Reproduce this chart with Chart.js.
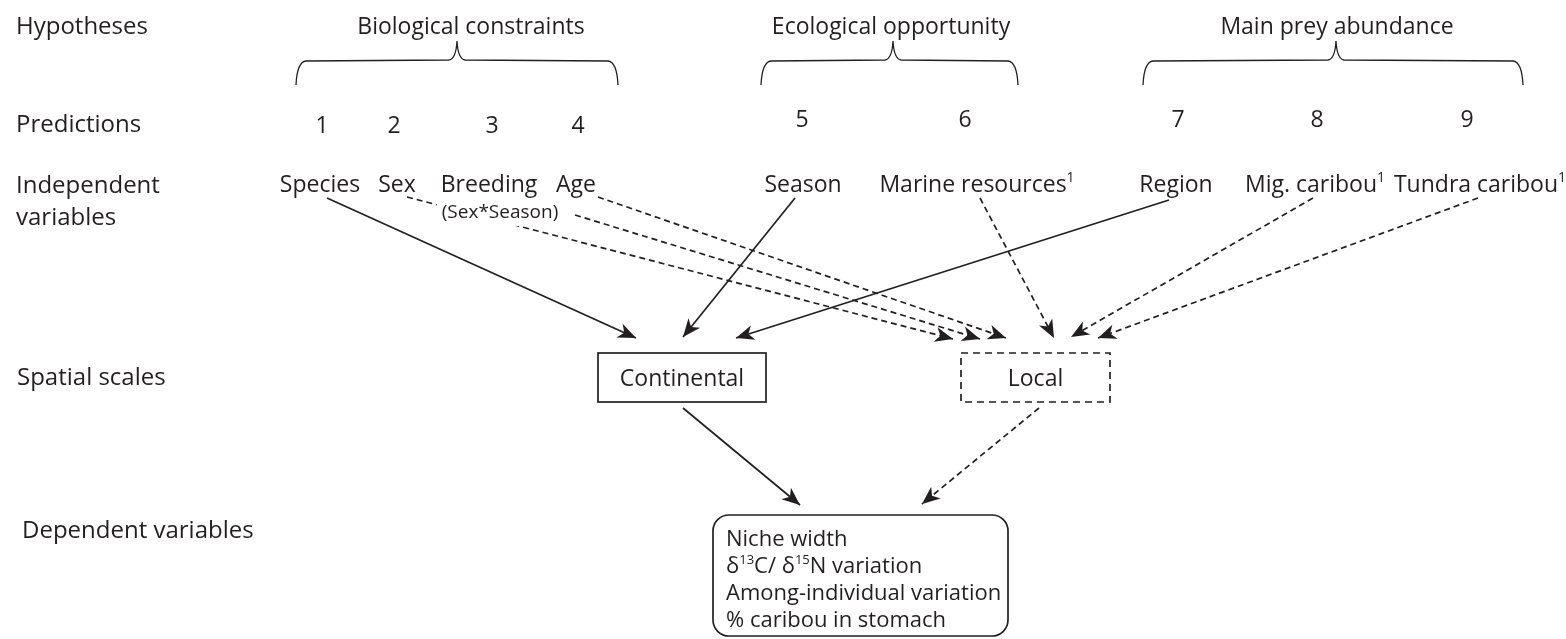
<!DOCTYPE html>
<html>
<head>
<meta charset="utf-8">
<script src="https://cdn.jsdelivr.net/npm/chart.js@4.4.0/dist/chart.umd.min.js"></script>
<style>
  html, body { margin: 0; padding: 0; background: #fff; }
</style>
</head>
<body>
<canvas id="diagram" width="1566" height="639"></canvas>
<script>
// Diagram content (text); "^n" marks a superscript
const rowLabels = ['Hypotheses', 'Predictions', 'Independent\nvariables', 'Spatial scales', 'Dependent variables'];
const hypotheses = ['Biological constraints', 'Ecological opportunity', 'Main prey abundance'];
const predictions = ['1', '2', '3', '4', '5', '6', '7', '8', '9'];
const variables = ['Species', 'Sex', 'Breeding', 'Age', 'Season', 'Marine resources^1', 'Region', 'Mig. caribou^1', 'Tundra caribou^1'];
const breedingNote = '(Sex*Season)';
const spatialScales = ['Continental', 'Local'];
// which spatial scale each independent variable points to
const variableTarget = ['Continental', 'Local', 'Local', 'Local', 'Continental', 'Local', 'Continental', 'Local', 'Local'];
const dependentVars = ['Niche width', 'δ^13C/ δ^15N variation', 'Among-individual variation', '% caribou in stomach'];

// Layout, in axis units (x 0..1566, y 0..639 top-down)
const rowX = [16, 16, 16, 17, 22];
const rowY = [34, 132, 193, 385, 538];
const hypX = [471, 891, 1337];
const braceSpan = [[296, 457, 618], [761, 893, 1018], [1143, 1336, 1523]];
const predX = [322, 394, 492, 578, 802, 965, 1178, 1317, 1467];
const predY = [133, 133, 133, 133, 127, 127, 127, 127, 127];
const varX = [320, 397, 489, 576, 803, 977, 1176, 1315, 1480];
const linkFrom = [[327, 198], [407, 197], [575, 215], [598, 197], [795, 198], [980, 198], [1169, 200], [1313, 198], [1478, 198]];
const linkTo = [[636, 338], [953, 339], [980, 339], [1006, 338], [683, 337], [1054, 338], [736, 338], [1071, 337], [1098, 338]];
const scaleBox = [[598, 353, 766, 402], [961, 353, 1110, 402]];
const scaleLinkFrom = [[683, 408], [1039, 408]];
const scaleLinkTo = [[800, 505], [922, 504]];
const depBox = [713, 515, 1008, 636];

const INK = '#231f20';
const FONT = "'Open Sans', sans-serif";

// one line dataset per arrow
const linkDatasets = variables.map((v, i) => ({
    label: v,
    type: 'line',
    data: [{ x: linkFrom[i][0], y: linkFrom[i][1] }, { x: linkTo[i][0], y: linkTo[i][1] }],
    borderColor: INK,
    borderWidth: 1.7,
    borderDash: variableTarget[i] === 'Local' ? [6, 4] : [],
    pointRadius: 0,
    tension: 0,
    clip: false
}));
spatialScales.forEach((s, i) => {
    linkDatasets.push({
        label: s,
        type: 'line',
        data: [{ x: scaleLinkFrom[i][0], y: scaleLinkFrom[i][1] }, { x: scaleLinkTo[i][0], y: scaleLinkTo[i][1] }],
        borderColor: INK,
        borderWidth: 1.7,
        borderDash: s === 'Local' ? [6, 4] : [],
        pointRadius: 0,
        tension: 0,
        clip: false
    });
});

// split "text^13more" into normal / superscript pieces
function richParts(str) {
    const parts = [];
    str.split(/(\^\d+)/).forEach(p => {
        if (!p) return;
        if (p[0] === '^') parts.push({ t: p.slice(1), sup: true });
        else parts.push({ t: p, sup: false });
    });
    return parts;
}

function drawRich(ctx, str, x, y, size, align) {
    const parts = richParts(str);
    const supSize = Math.round(size * 0.6);
    let total = 0;
    parts.forEach(p => {
        ctx.font = (p.sup ? supSize : size) + 'px ' + FONT;
        p.w = ctx.measureText(p.t).width;
        total += p.w;
    });
    let cx = align === 'center' ? x - total / 2 : x;
    ctx.textAlign = 'left';
    ctx.textBaseline = 'alphabetic';
    parts.forEach(p => {
        ctx.font = (p.sup ? supSize : size) + 'px ' + FONT;
        ctx.fillText(p.t, cx, p.sup ? y - size * 0.42 : y);
        cx += p.w;
    });
    return total;
}

function arrowHead(ctx, x0, y0, x1, y1) {
    const a = Math.atan2(y1 - y0, x1 - x0);
    const len = 18, half = 7.5, notch = 5;
    ctx.save();
    ctx.translate(x1, y1);
    ctx.rotate(a);
    ctx.beginPath();
    ctx.moveTo(0, 0);
    ctx.lineTo(-len, -half);
    ctx.lineTo(-len + notch, 0);
    ctx.lineTo(-len, half);
    ctx.closePath();
    ctx.fillStyle = INK;
    ctx.fill();
    ctx.restore();
}

const diagramPlugin = {
    id: 'diagram',
    afterDatasetsDraw(chart) {
        const ctx = chart.ctx;
        const xs = chart.scales.x, ys = chart.scales.y;
        const px = v => xs.getPixelForValue(v);
        const py = v => ys.getPixelForValue(v);
        ctx.save();
        ctx.fillStyle = INK;
        ctx.strokeStyle = INK;

        // arrowheads at the end of every link
        chart.data.datasets.forEach((ds, i) => {
            const pts = chart.getDatasetMeta(i).data;
            arrowHead(ctx, pts[0].x, pts[0].y, pts[1].x, pts[1].y);
        });

        // row labels
        rowLabels.forEach((lab, i) => {
            lab.split('\n').forEach((ln, k) => {
                drawRich(ctx, ln, px(rowX[i]), py(rowY[i] + k * 32), 24, 'left');
            });
        });

        // hypotheses and their braces
        hypotheses.forEach((h, i) => {
            drawRich(ctx, h, px(hypX[i]), py(34), 23, 'center');
            const [l, m, r] = braceSpan[i];
            const yb = 85, yh = 62, yp = 41;
            ctx.lineWidth = 1.3;
            ctx.setLineDash([]);
            ctx.beginPath();
            ctx.moveTo(px(l), py(yb));
            ctx.quadraticCurveTo(px(l + 1), py(yh), px(l + 10), py(yh - 1));
            ctx.lineTo(px(m - 8), py(yh - 2));
            ctx.quadraticCurveTo(px(m - 1), py(yh - 3), px(m), py(yp));
            ctx.quadraticCurveTo(px(m + 1), py(yh - 3), px(m + 8), py(yh - 2));
            ctx.lineTo(px(r - 10), py(yh - 1));
            ctx.quadraticCurveTo(px(r - 1), py(yh), px(r), py(yb));
            ctx.stroke();
        });

        // prediction numbers
        predictions.forEach((p, i) => drawRich(ctx, p, px(predX[i]), py(predY[i]), 23, 'center'));

        // independent variables
        variables.forEach((v, i) => drawRich(ctx, v, px(varX[i]), py(192), 23, 'center'));

        // breeding note sits on a white patch over the Sex arrow
        ctx.font = '19px ' + FONT;
        const nw = ctx.measureText(breedingNote).width;
        ctx.fillStyle = '#fff';
        ctx.fillRect(px(500) - nw / 2 - 5, py(200), nw + 10, py(226) - py(200));
        ctx.fillStyle = INK;
        drawRich(ctx, breedingNote, px(500), py(218), 19, 'center');

        // spatial scale boxes
        spatialScales.forEach((s, i) => {
            const [x0, y0, x1, y1] = scaleBox[i];
            ctx.lineWidth = 1.7;
            ctx.setLineDash(s === 'Local' ? [7, 5] : []);
            ctx.strokeRect(px(x0), py(y0), px(x1) - px(x0), py(y1) - py(y0));
            ctx.setLineDash([]);
            drawRich(ctx, s, px((x0 + x1) / 2), py(386), 23, 'center');
        });

        // dependent variables box
        const [bx0, by0, bx1, by1] = depBox;
        ctx.lineWidth = 1.7;
        ctx.beginPath();
        ctx.roundRect(px(bx0), py(by0), px(bx1) - px(bx0), py(by1) - py(by0), 16);
        ctx.stroke();
        dependentVars.forEach((d, i) => drawRich(ctx, d, px(726), py(546 + i * 27), 22, 'left'));

        ctx.restore();
    }
};

new Chart(document.getElementById('diagram'), {
    type: 'scatter',
    data: { datasets: linkDatasets },
    options: {
        responsive: false,
        animation: false,
        layout: { padding: 0 },
        plugins: {
            legend: { display: false },
            tooltip: { enabled: false }
        },
        scales: {
            x: { type: 'linear', min: 0, max: 1566, display: false },
            y: { type: 'linear', min: 0, max: 639, reverse: true, display: false }
        }
    },
    plugins: [diagramPlugin]
});
</script>
</body>
</html>
